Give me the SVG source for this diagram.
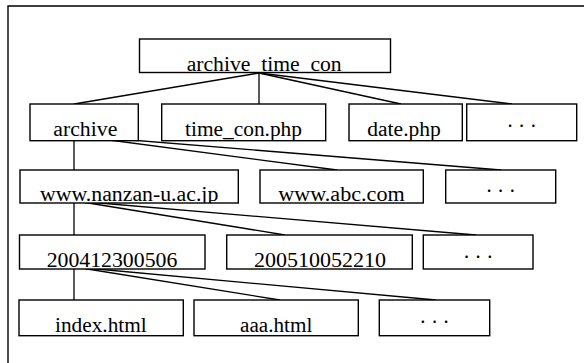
<svg xmlns="http://www.w3.org/2000/svg" width="584" height="363" viewBox="0 0 584 363">
  <style>
    .box { fill: #fff; stroke: #000; stroke-width: 1.4; }
    .lbl { font-family: "Liberation Serif", "Times New Roman", serif; font-size: 20.5px; fill: #000; }
    .dots { font-family: "Noto Sans CJK JP", sans-serif; font-size: 11.7px; fill: #000; text-anchor: middle; }
    .edge { stroke: #000; stroke-width: 1.3; fill: none; }
  </style>
  <defs>
    <clipPath id="c-root"><rect x="139.5" y="39" width="251" height="33.5"/></clipPath>
    <clipPath id="c-archive"><rect x="30" y="104" width="108.3" height="36.7"/></clipPath>
    <clipPath id="c-timecon"><rect x="161.7" y="104" width="164" height="36.7"/></clipPath>
    <clipPath id="c-date"><rect x="349" y="104" width="113.3" height="36.7"/></clipPath>
    <clipPath id="c-nanzan"><rect x="20" y="170" width="218.3" height="33"/></clipPath>
    <clipPath id="c-abc"><rect x="260" y="170" width="163.3" height="33"/></clipPath>
    <clipPath id="c-d1"><rect x="19.5" y="235" width="185.5" height="34"/></clipPath>
    <clipPath id="c-d2"><rect x="226.7" y="235" width="185.6" height="34"/></clipPath>
    <clipPath id="c-index"><rect x="19" y="300" width="164.3" height="35.7"/></clipPath>
    <clipPath id="c-aaa"><rect x="194" y="300" width="164.3" height="35.7"/></clipPath>
  </defs>
  <rect width="584" height="363" fill="#fff"/>
  <!-- outer frame (only top and left edges fall inside the canvas) -->
  <path d="M8,372 V6 H592" fill="none" stroke="#000" stroke-width="1.4"/>

  <!-- connectors -->
  <g id="connectors" class="edge">
    <line x1="259" y1="73" x2="74" y2="104"/>
    <line x1="259" y1="73" x2="259" y2="104"/>
    <line x1="259" y1="73" x2="401" y2="104"/>
    <line x1="259" y1="73" x2="512" y2="104"/>

    <line x1="74" y1="136" x2="74" y2="170"/>
    <line x1="75" y1="135.5" x2="337" y2="170"/>
    <line x1="75" y1="135.5" x2="501" y2="170"/>

    <line x1="74" y1="201" x2="74" y2="235"/>
    <line x1="76" y1="201" x2="285" y2="235"/>
    <line x1="76" y1="201" x2="476" y2="235"/>

    <line x1="74" y1="267" x2="74" y2="300"/>
    <line x1="75" y1="267" x2="280" y2="300"/>
    <line x1="75" y1="267" x2="436" y2="300"/>
  </g>

  <!-- level 0 -->
  <g id="node-root">
    <rect class="box" x="139.5" y="39" width="251" height="33.5"/>
    <text class="lbl" x="186.7" y="71" textLength="155" lengthAdjust="spacingAndGlyphs" clip-path="url(#c-root)">archive_time_con</text>
  </g>

  <!-- level 1 -->
  <g id="node-archive">
    <rect class="box" x="30" y="104" width="108.3" height="36.7"/>
    <text class="lbl" x="53.3" y="136" textLength="64" lengthAdjust="spacingAndGlyphs" clip-path="url(#c-archive)">archive</text>
  </g>
  <g id="node-timecon">
    <rect class="box" x="161.7" y="104" width="164" height="36.7"/>
    <text class="lbl" x="185" y="136" textLength="117" lengthAdjust="spacingAndGlyphs" clip-path="url(#c-timecon)">time_con.php</text>
  </g>
  <g id="node-date">
    <rect class="box" x="349" y="104" width="113.3" height="36.7"/>
    <text class="lbl" x="367.3" y="136" textLength="73.5" lengthAdjust="spacingAndGlyphs" clip-path="url(#c-date)">date.php</text>
  </g>
  <g id="node-more1">
    <rect class="box" x="466.7" y="104" width="110" height="36.7"/>
    <text class="dots" x="521.7" y="130.4">・・・</text>
  </g>

  <!-- level 2 -->
  <g id="node-nanzan">
    <rect class="box" x="20" y="170" width="218.3" height="33"/>
    <text class="lbl" x="40" y="201" textLength="178.3" lengthAdjust="spacingAndGlyphs" clip-path="url(#c-nanzan)">www.nanzan-u.ac.jp</text>
  </g>
  <g id="node-abc">
    <rect class="box" x="260" y="170" width="163.3" height="33"/>
    <text class="lbl" x="278.3" y="201" textLength="126.4" lengthAdjust="spacingAndGlyphs" clip-path="url(#c-abc)">www.abc.com</text>
  </g>
  <g id="node-more2">
    <rect class="box" x="445.7" y="170" width="110" height="33"/>
    <text class="dots" x="500.7" y="195.1">・・・</text>
  </g>

  <!-- level 3 -->
  <g id="node-dir1">
    <rect class="box" x="19.5" y="235" width="185.5" height="34"/>
    <text class="lbl" x="46.7" y="266.7" textLength="130.6" lengthAdjust="spacingAndGlyphs" clip-path="url(#c-d1)">200412300506</text>
  </g>
  <g id="node-dir2">
    <rect class="box" x="226.7" y="235" width="185.6" height="34"/>
    <text class="lbl" x="254" y="266.7" textLength="132" lengthAdjust="spacingAndGlyphs" clip-path="url(#c-d2)">200510052210</text>
  </g>
  <g id="node-more3">
    <rect class="box" x="423.3" y="235" width="109.7" height="34"/>
    <text class="dots" x="478.2" y="261.1">・・・</text>
  </g>

  <!-- level 4 -->
  <g id="node-index">
    <rect class="box" x="19" y="300" width="164.3" height="35.7"/>
    <text class="lbl" x="55" y="331.7" textLength="91.7" lengthAdjust="spacingAndGlyphs" clip-path="url(#c-index)">index.html</text>
  </g>
  <g id="node-aaa">
    <rect class="box" x="194" y="300" width="164.3" height="35.7"/>
    <text class="lbl" x="240" y="331.7" textLength="72.3" lengthAdjust="spacingAndGlyphs" clip-path="url(#c-aaa)">aaa.html</text>
  </g>
  <g id="node-more4">
    <rect class="box" x="379.3" y="300" width="110.4" height="35.7"/>
    <text class="dots" x="434.5" y="326.1">・・・</text>
  </g>
</svg>
